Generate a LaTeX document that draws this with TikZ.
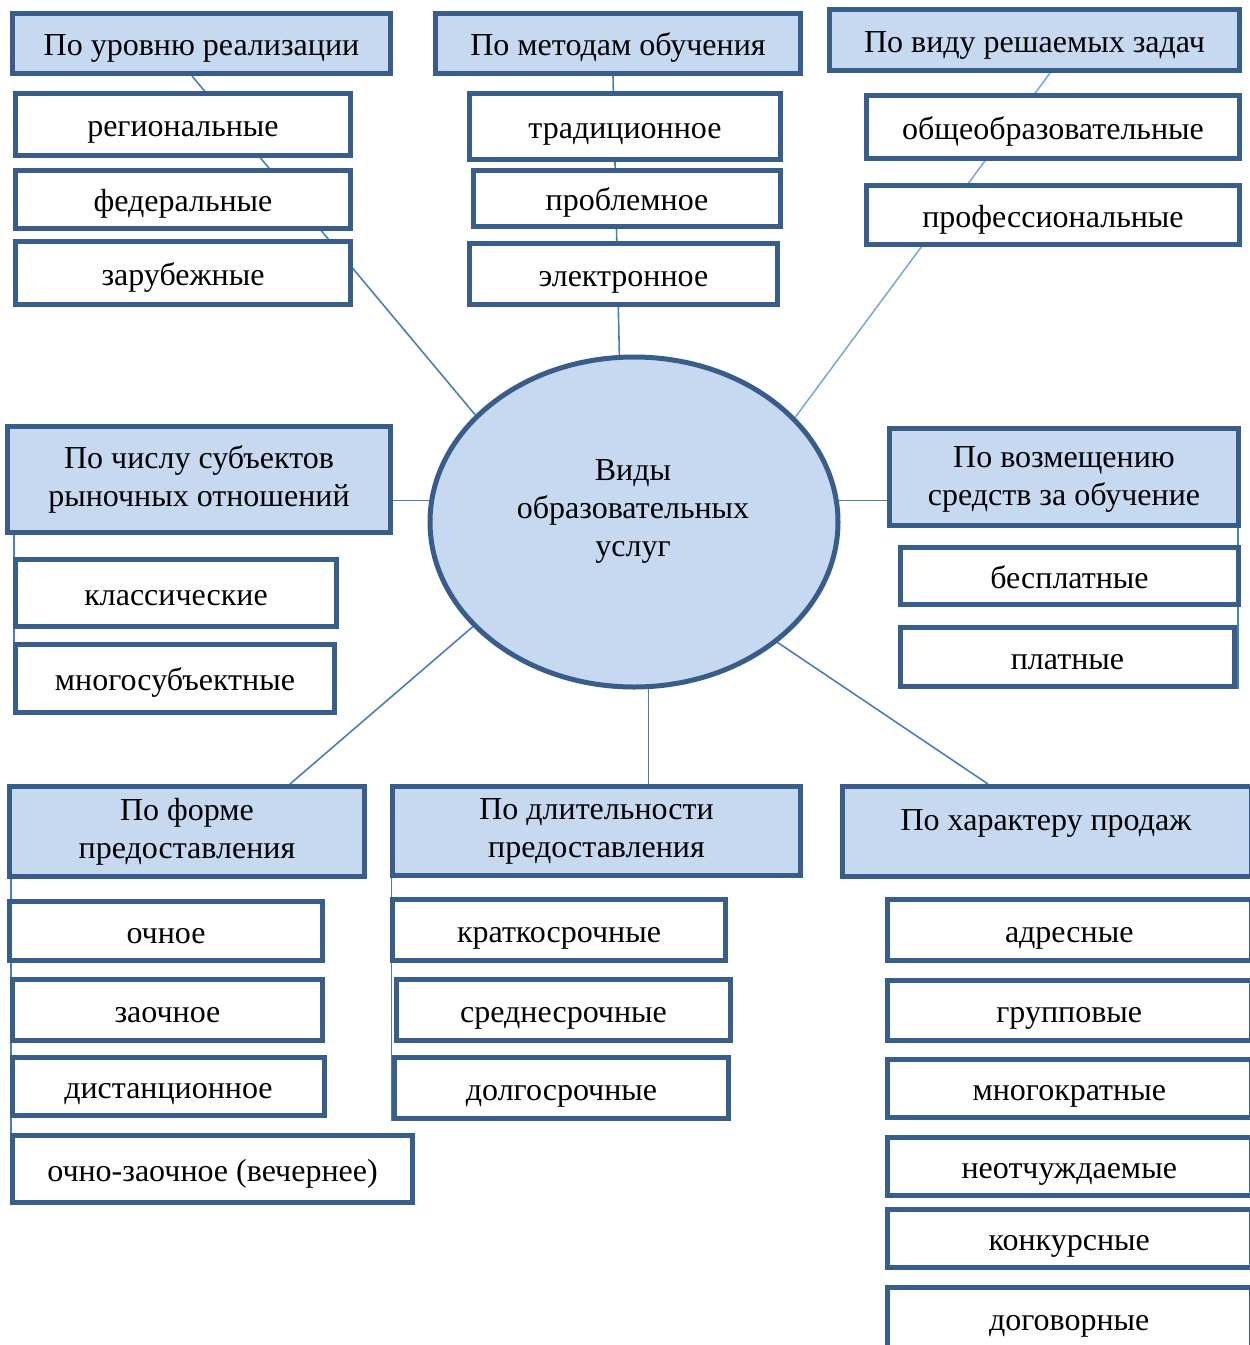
\documentclass[tikz,border=0pt]{standalone}
\usepackage{fontspec}
\setmainfont{Liberation Serif}
\usetikzlibrary{shapes.geometric,calc,backgrounds}
\definecolor{boxline}{RGB}{56,93,138}
\definecolor{hdrfill}{RGB}{198,217,241}
\definecolor{linkblue}{RGB}{74,126,187}
\definecolor{linklightblue}{RGB}{128,168,222}
\begin{document}
\begin{tikzpicture}[x=0.5pt,y=-0.5pt,
  txt/.style={font=\fontsize{16}{19}\selectfont, align=center, inner sep=0pt},
  base/.style={txt, draw=boxline, line width=2.5pt},
  wh/.style 2 args={minimum width=#1*0.5pt, minimum height=#2*0.5pt},
  hdr/.style={base, fill=hdrfill},
  hdrone/.style={hdr, text height=13pt, text depth=1pt},
  childbox/.style={base, fill=white, text height=13pt, text depth=1pt},
  link/.style={draw=linkblue, line width=0.8pt},
  linklight/.style={draw=linklightblue, line width=0.8pt}]
\useasboundingbox (0,0) rectangle (1249,1345);

% group 1
\node[hdrone, wh={378}{60}] (h1) at (201.5,43.5) {По уровню реализации};
\node[childbox, wh={335}{62}] (c11) at (183,124.5) {региональные};
\node[childbox, wh={335}{58}] (c12) at (183,199.5) {федеральные};
\node[childbox, wh={335}{63}] (c13) at (183,273) {зарубежные};

% group 2
\node[hdrone, wh={365}{60}] (h2) at (618,43.5) {По методам обучения};
\node[childbox, wh={311}{66}] (c21) at (625,126.5) {традиционное};
\node[childbox, wh={307}{56}] (c22) at (627,198.5) {проблемное};
\node[childbox, wh={308}{61}] (c23) at (623.5,274) {электронное};

% group 3
\node[hdrone, wh={410}{61}] (h3) at (1034.5,40) {По виду решаемых задач};
\node[childbox, wh={373}{63}] (c31) at (1053,127) {общеобразовательные};
\node[childbox, wh={373}{59}] (c32) at (1053,215) {профессиональные};

% group 4
\node[hdr, wh={383}{106}] (h4) at (199,479.5) {По числу субъектов\\рыночных отношений};
\node[childbox, wh={321}{67}] (c41) at (176,593) {классические};
\node[childbox, wh={319}{68}] (c42) at (175,678.5) {многосубъектные};

% group 5
\node[hdr, wh={349}{97}] (h5) at (1064,477) {};
\node[txt] (h5t) at (1064,479) {По возмещению\\средств за обучение};
\node[childbox, wh={338}{57}] (c51) at (1069.5,576) {бесплатные};
\node[childbox, wh={334}{59}] (c52) at (1067.5,657) {платные};

% centre
\node[ellipse, draw=boxline, line width=2.5pt, fill=hdrfill, minimum width=204pt, minimum height=165pt, inner sep=0pt] (ell) at (634,522) {};
\node[txt] (elltext) at (633,511) {Виды\\образовательных\\услуг};

% group 6
\node[hdr, wh={355}{90}] (h6) at (187,831.5) {По форме\\предоставления};
\node[childbox, wh={313}{59}] (c61) at (166,931) {очное};
\node[childbox, wh={310}{61}] (c62) at (167.5,1010) {заочное};
\node[childbox, wh={312}{58}] (c63) at (168.5,1086.5) {дистанционное};
\node[childbox, wh={400}{67}] (c64) at (212.5,1169) {очно-заочное (вечернее)};

% group 7
\node[hdr, wh={408}{89}] (h7) at (596.5,831) {По длительности\\предоставления};
\node[childbox, wh={333}{61}] (c71) at (559,930) {краткосрочные};
\node[childbox, wh={334}{61}] (c72) at (563.5,1010) {среднесрочные};
\node[childbox, wh={334}{61}] (c73) at (561.5,1088) {долгосрочные};

% group 8
\node[hdr, wh={408.5}{90}] (h8) at (1046.75,831.5) {};
\node[txt] (h8t) at (1046,823) {По характеру продаж};
\node[childbox, wh={363.5}{61}] (c81) at (1069.25,930) {адресные};
\node[childbox, wh={363.5}{60}] (c82) at (1069.25,1010.5) {групповые};
\node[childbox, wh={363.5}{58}] (c83) at (1069.25,1088.5) {многократные};
\node[childbox, wh={363.5}{58}] (c84) at (1069.25,1166.5) {неотчуждаемые};
\node[childbox, wh={363.5}{58}] (c85) at (1069.25,1238.5) {конкурсные};
\node[childbox, wh={363.5}{61}] (c86) at (1069.25,1318) {договорные};

% connectors
\begin{pgfonlayer}{background}
\draw[link] ($(h1.south)+(-9.5,0)$) -- (ell.146);
\draw[link] ($(h2.south)+(-5,0)$) -- (ell.95);
\draw[linklight] ($(h3.south)+(15.5,0)$) -- (ell.33);
\draw[link] (ell.174) -- (ell.174 -| h4.east);
\draw[link] (ell.6) -- (ell.6 -| h5.west);
\coordinate (v4) at ($(h4.south west)+(9,0)$);
\draw[link] (v4) -- (v4 |- c42.south);
\coordinate (v5) at ($(h5.south east)+(-2.75,0)$);
\draw[link] (v5) -- (v5 |- c52.south);
\draw[link] (ell.213) -- ($(h6.north)+(103,0)$);
\coordinate (v6) at ($(h6.south west)+(3.75,0)$);
\coordinate (v6end) at ($(v6 |- c64.center)+(0,13)$);
\draw[link] (v6) -- (v6end);
\draw[link] (ell.275) -- (ell.275 |- h7.north);
\coordinate (v7) at ($(h7.south west)+(1.5,0)$);
\draw[link] (v7) -- (v7 |- c73.south);
\draw[link] (ell.320) -- ($(h8.north)+(-58.75,0)$);
\end{pgfonlayer}
\end{tikzpicture}
\end{document}
